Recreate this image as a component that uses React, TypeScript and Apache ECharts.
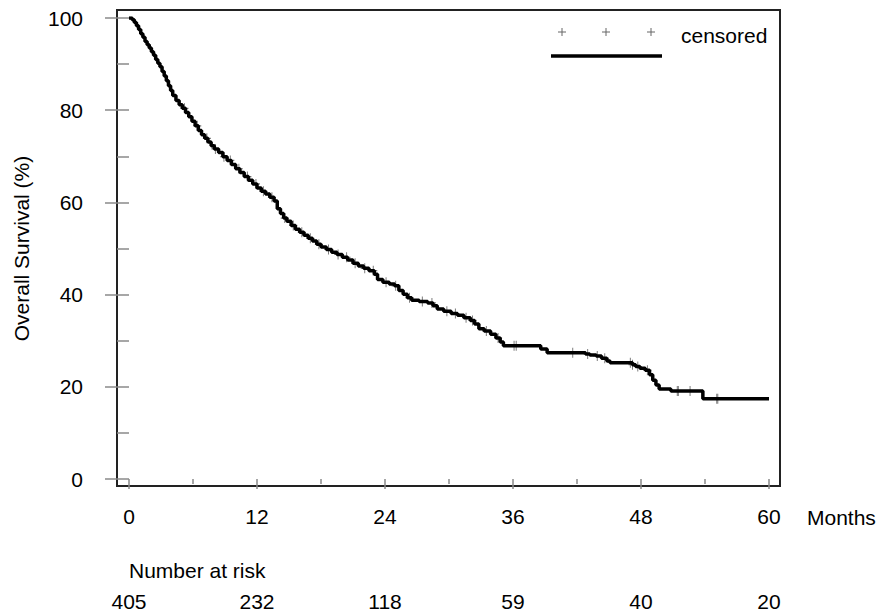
import React, { useEffect, useRef } from "react";
import * as echarts from "echarts";

// Kaplan-Meier step points (months, overall survival %)
const months = [
  0, 0.3, 0.5, 0.7, 0.9, 1.1, 1.3, 1.5, 1.7, 1.9, 2.1, 2.3, 2.5, 2.7, 2.9, 3.1, 3.3, 3.5, 3.7, 3.9,
  4.1, 4.4, 4.7, 5.0, 5.3, 5.6, 5.9, 6.2, 6.5, 6.8, 7.1, 7.4, 7.7, 8.0, 8.4, 8.8, 9.2, 9.6, 10.0,
  10.4, 10.8, 11.2, 11.6, 12.0, 12.4, 12.8, 13.2, 13.6, 13.9, 14.2, 14.5, 14.8, 15.2, 15.6, 16.0,
  16.4, 16.8, 17.2, 17.6, 18.0, 18.5, 19.0, 19.5, 20.0, 20.5, 21.0, 21.5, 22.0, 22.5, 23.0, 23.3,
  23.8, 24.4, 24.9, 25.3, 25.7, 26.1, 26.5, 27.2, 28.0, 28.5, 28.9, 29.5, 30.2, 30.8, 31.4, 32.0,
  32.4, 32.8, 33.3, 33.9, 34.4, 34.8, 35.1, 38.6, 39.2, 42.8, 43.2, 43.8, 44.3, 44.8, 45.1, 47.2,
  47.5, 47.9, 48.4, 48.8, 49.1, 49.4, 49.7, 50.8, 53.8, 60,
];
const survival = [
  100, 99.6, 99.0, 98.3, 97.5, 96.6, 95.8, 94.9, 94.2, 93.5, 92.7, 91.9, 91.0, 90.2, 89.4, 88.4, 87.4, 86.4, 85.3, 84.3,
  83.2, 82.1, 81.2, 80.4, 79.5, 78.6, 77.6, 76.6, 75.6, 74.7, 73.9, 73.1, 72.3, 71.6, 70.8, 69.9, 69.1, 68.2, 67.3,
  66.5, 65.6, 64.8, 64.0, 63.1, 62.4, 61.8, 61.1, 60.3, 58.6, 57.6, 56.6, 55.9, 55.0, 54.2, 53.5,
  52.9, 52.2, 51.6, 50.9, 50.3, 49.8, 49.2, 48.7, 48.1, 47.5, 46.8, 46.2, 45.7, 45.2, 44.4, 43.3,
  42.7, 42.3, 41.9, 40.9, 40.1, 39.3, 38.8, 38.5, 38.2, 37.6, 36.9, 36.4, 35.9, 35.5, 35.0, 34.4,
  33.6, 32.6, 32.1, 31.4, 30.6, 29.7, 28.9, 28.2, 27.4, 27.1, 26.9, 26.7, 26.2, 25.6, 25.2, 24.8,
  24.4, 24.0, 23.6, 22.6, 21.4, 20.4, 19.5, 19.1, 17.4, 17.4,
];
// Censoring times (months)
const censoredMonths = [
  5.2, 6.4, 7.3, 8.1, 8.9, 9.5, 10.3, 11.1, 11.9, 12.6, 13.4, 14.6, 15.4, 16.2, 17.0, 17.8,
  18.7, 19.6, 20.4, 21.2, 22.1, 22.9, 24.1, 25.0, 26.3, 27.5, 28.4, 29.8, 30.6, 31.6, 32.2,
  33.5, 34.6, 36.1, 36.3, 41.6, 43.0, 43.9, 44.6, 47.0, 47.2, 47.7, 48.6, 51.4, 51.5, 52.6,
  55.1, 55.2,
];
const xTicks = [0, 12, 24, 36, 48, 60];
const numberAtRisk = [405, 232, 118, 59, 40, 20];

const FONT = "Liberation Sans, Arial, Helvetica, sans-serif";
const FS = 21;

function survivalAt(t: number): number {
  let s = survival[0];
  for (let i = 0; i < months.length; i++) {
    if (months[i] <= t) s = survival[i];
    else break;
  }
  return s;
}

export default function App() {
  const ref = useRef<HTMLDivElement>(null);
  useEffect(() => {
    document.body.style.margin = "0";
    const chart = echarts.init(ref.current!, undefined, { renderer: "svg" });
    const lineData = months.map((m, i) => [m, survival[i]]);
    const censorData = censoredMonths.map((m) => [m, survivalAt(m)]);
    const tickColor = "#8a8a8a";
    chart.setOption({
      animation: false,
      textStyle: { fontFamily: FONT },
      grid: { left: 129, right: 108, top: 18, bottom: 134 },
      xAxis: [
        {
          type: "value",
          position: "bottom",
          offset: 7,
          min: 0,
          max: 60,
          interval: 12,
          axisLine: { show: false },
          axisTick: { show: true, length: 10, lineStyle: { color: tickColor, width: 1.5 } },
          minorTick: { show: true, splitNumber: 2, length: 5, lineStyle: { color: tickColor, width: 1.5 } },
          splitLine: { show: false },
          minorSplitLine: { show: false },
          axisLabel: { fontSize: FS, color: "#000", margin: 20, fontFamily: FONT },
        },
        {
          type: "value",
          position: "bottom",
          offset: 7,
          min: 0,
          max: 60,
          interval: 12,
          axisLine: { show: false },
          axisTick: { show: false },
          splitLine: { show: false },
          axisLabel: {
            fontSize: FS,
            color: "#000",
            margin: 105,
            fontFamily: FONT,
            formatter: (v: number) => {
              const idx = xTicks.indexOf(Math.round(v));
              return idx >= 0 ? String(numberAtRisk[idx]) : "";
            },
          },
        },
      ],
      yAxis: {
        type: "value",
        position: "left",
        offset: 12,
        min: 0,
        max: 100,
        interval: 20,
        axisLine: { show: false },
        axisTick: { show: true, length: 24, lineStyle: { color: tickColor, width: 1.5 } },
        minorTick: { show: true, splitNumber: 2, length: 12, lineStyle: { color: tickColor, width: 1.5 } },
        splitLine: { show: false },
        minorSplitLine: { show: false },
        axisLabel: { fontSize: FS, color: "#000", margin: 34, fontFamily: FONT },
        name: "Overall Survival (%)",
        nameLocation: "middle",
        nameRotate: 90,
        nameGap: 85,
        nameTextStyle: { fontSize: FS, color: "#000", fontFamily: FONT },
      },
      series: [
        {
          type: "scatter",
          name: "censored",
          data: censorData,
          symbol: "path://M-0.12,-1H0.12V1H-0.12Z M-1,-0.12H1V0.12H-1Z",
          symbolSize: [8, 10],
          itemStyle: { color: "#555" },
          z: 1,
          silent: true,
        },
        {
          type: "line",
          name: "Overall survival",
          data: lineData,
          step: "end",
          showSymbol: false,
          lineStyle: { color: "#000", width: 3.5 },
          z: 2,
          silent: true,
        },
      ],
      graphic: [
        {
          type: "rect",
          shape: { x: 117, y: 10, width: 663, height: 476 },
          style: { fill: "none", stroke: "#222", lineWidth: 2 },
          silent: true,
        },
        ...[562, 606, 651].flatMap((cx) => [
          { type: "line", shape: { x1: cx - 4, y1: 32, x2: cx + 4, y2: 32 }, style: { stroke: "#666", lineWidth: 1 } },
          { type: "line", shape: { x1: cx, y1: 28, x2: cx, y2: 36 }, style: { stroke: "#666", lineWidth: 1 } },
        ]),
        {
          type: "line",
          shape: { x1: 551, y1: 56, x2: 662, y2: 56 },
          style: { stroke: "#000", lineWidth: 3.5 },
        },
        {
          type: "text",
          x: 681,
          y: 35,
          style: { text: "censored", fontSize: FS, fill: "#000", fontFamily: FONT, verticalAlign: "middle", align: "left" },
        },
        {
          type: "text",
          x: 807,
          y: 517,
          style: { text: "Months", fontSize: FS, fill: "#000", fontFamily: FONT, verticalAlign: "middle", align: "left" },
        },
        {
          type: "text",
          x: 129,
          y: 570,
          style: { text: "Number at risk", fontSize: FS, fill: "#000", fontFamily: FONT, verticalAlign: "middle", align: "left" },
        },
      ],
    });
    return () => chart.dispose();
  }, []);
  return <div ref={ref} style={{ width: 877, height: 613 }} />;
}
